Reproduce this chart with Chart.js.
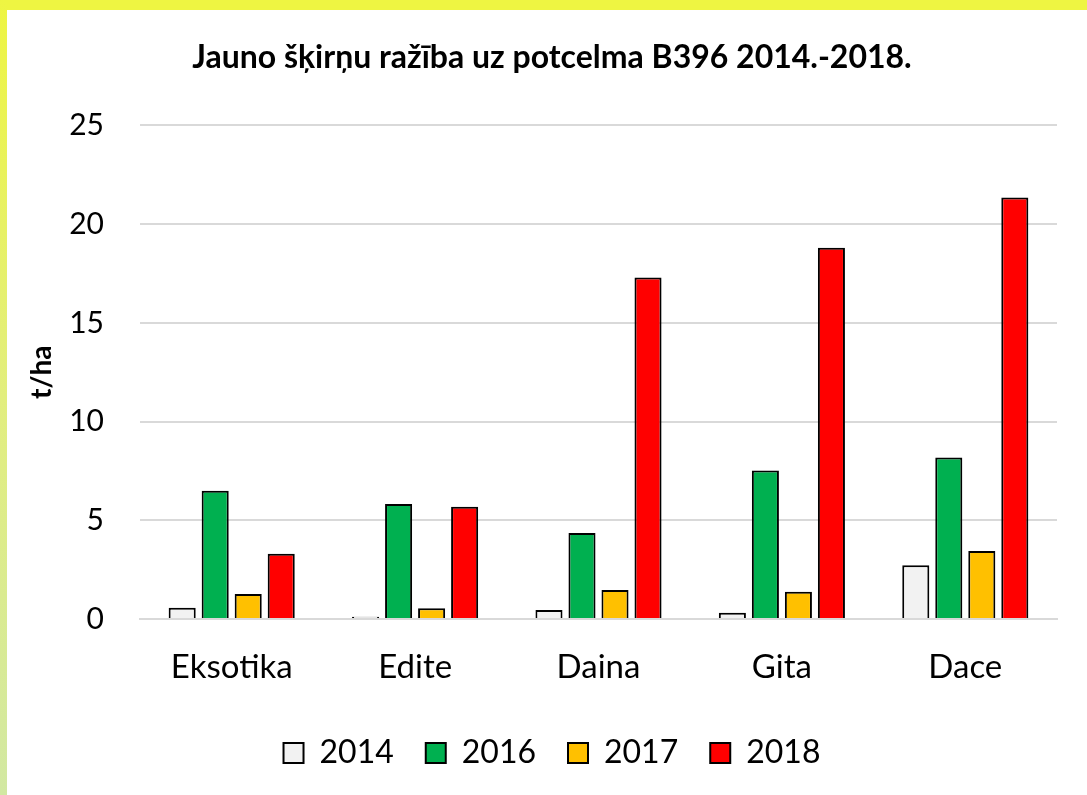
<!DOCTYPE html>
<html>
<head>
<meta charset="utf-8">
<script src="https://cdn.jsdelivr.net/npm/chart.js@4"></script>
<style>
  html, body { margin: 0; padding: 0; width: 1087px; height: 795px; overflow: hidden; background: #ffffff; }
  #topbar { position: absolute; left: 0; top: 0; width: 1087px; height: 10px; background: #eef542; }
  #leftbar { position: absolute; left: 0; top: 0; width: 7px; height: 795px; background: linear-gradient(to bottom, #eef542 0%, #e2ee7e 50%, #d2e8a2 100%); }
  #wrap { position: absolute; left: 7px; top: 10px; width: 1080px; height: 785px; background: #ffffff; }
</style>
</head>
<body>
<div id="topbar"></div>
<div id="leftbar"></div>
<div id="wrap"><canvas id="c" width="1080" height="785"></canvas></div>
<script>
const categories = ["Eksotika", "Edite", "Daina", "Gita", "Dace"];
const seriesNames = ["2014", "2016", "2017", "2018"];
const values2014 = [0.57, 0.12, 0.46, 0.32, 2.72];
const values2016 = [6.5, 5.83, 4.35, 7.52, 8.18];
const values2017 = [1.27, 0.54, 1.47, 1.38, 3.45];
const values2018 = [3.3, 5.68, 17.3, 18.8, 21.35];
const yTicks = [0, 5, 10, 15, 20, 25];
const titleText = "Jauno šķirņu ražība uz potcelma B396 2014.-2018.";
const yTitle = "t/ha";

const colors = ["#f2f2f2", "#00b050", "#ffc000", "#ff0000"];
const seriesValues = [values2014, values2016, values2017, values2018];

const FONT = "Lato, 'Open Sans', sans-serif";

new Chart(document.getElementById("c"), {
  type: "bar",
  data: {
    labels: categories,
    datasets: seriesNames.map((n, i) => ({
      label: n,
      data: seriesValues[i],
      backgroundColor: colors[i],
      borderColor: "#000000",
      borderWidth: 2,
      categoryPercentage: 0.72,
      barPercentage: 0.82
    }))
  },
  options: {
    responsive: false,
    devicePixelRatio: 1,
    animation: false,
    layout: { padding: { left: 40, right: 30, top: 0, bottom: 16 } },
    plugins: {
      title: {
        display: true,
        text: titleText,
        color: "#000000",
        font: { family: FONT, size: 32, weight: "bold" },
        padding: { top: 28, bottom: 49 }
      },
      legend: {
        position: "bottom",
        labels: {
          color: "#000000",
          font: { family: FONT, size: 32 },
          boxWidth: 20,
          boxHeight: 20,
          padding: 32
        }
      },
      tooltip: { enabled: false }
    },
    scales: {
      x: {
        afterFit: (s) => { s.height = 86; },
        grid: { display: false, drawTicks: false },
        border: { display: true, color: "#d9d9d9", width: 2 },
        ticks: { color: "#000000", font: { family: FONT, size: 33 }, padding: 29 }
      },
      y: {
        min: 0,
        max: 25,
        afterBuildTicks: (s) => { s.ticks = yTicks.map(v => ({ value: v })); },
        afterFit: (s) => { s.width = 93; },
        grid: { color: "#d9d9d9", lineWidth: 2, drawTicks: false },
        border: { display: false },
        ticks: { color: "#000000", font: { family: FONT, size: 30 }, padding: 36 },
        title: {
          display: true,
          text: yTitle,
          color: "#000000",
          font: { family: FONT, size: 28, weight: "bold" },
          padding: { top: -22, bottom: 0 }
        }
      }
    }
  }
});
</script>
</body>
</html>
